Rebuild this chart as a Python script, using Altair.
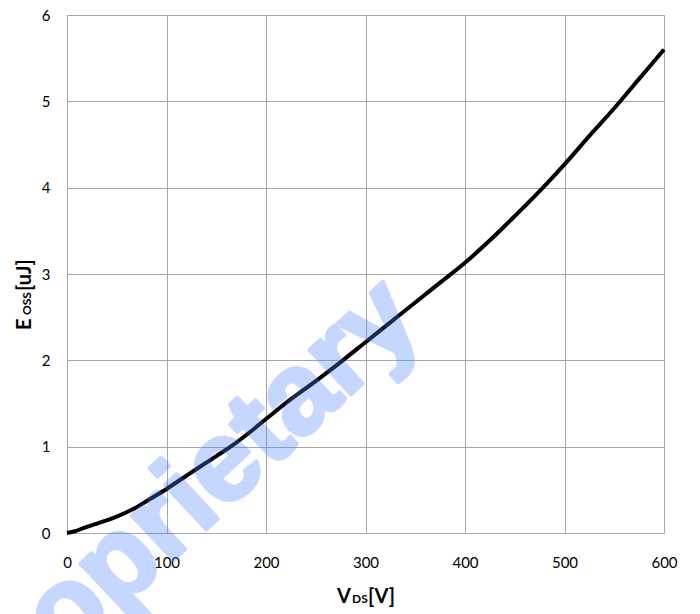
import altair as alt
import pandas as pd

# Data
vds = [0, 8, 17, 33, 50, 67, 83, 100, 117, 134, 150, 167, 184, 200, 225, 250, 275,
       300, 325, 350, 375, 400, 425, 450, 475, 500, 525, 550, 575, 600]
eoss = [0.0, 0.02, 0.06, 0.12, 0.19, 0.28, 0.39, 0.51, 0.64, 0.77, 0.89, 1.02, 1.17, 1.32,
        1.55, 1.76, 1.98, 2.21, 2.44, 2.67, 2.9, 3.13, 3.39, 3.67, 3.96, 4.27, 4.6, 4.92,
        5.26, 5.6]
x_ticks = [0, 100, 200, 300, 400, 500, 600]
y_ticks = [0, 1, 2, 3, 4, 5, 6]

W, H = 597, 518
df = pd.DataFrame({"vds": vds, "eoss": eoss})

grid = "#a6a6a6"
label_font = "Lato"

line = alt.Chart(df).mark_line(color="black", strokeWidth=4, interpolate="monotone").encode(
    x=alt.X("vds:Q", scale=alt.Scale(domain=[0, 600], nice=False),
            axis=alt.Axis(values=x_ticks, title=None, grid=True, ticks=False,
                          labelFlush=False, labelPadding=22,
                          domainColor=grid, gridColor=grid)),
    y=alt.Y("eoss:Q", scale=alt.Scale(domain=[0, 6], nice=False),
            axis=alt.Axis(values=y_ticks, title=None, grid=True, ticks=False,
                          labelFlush=False, labelPadding=17,
                          domainColor=grid, gridColor=grid)),
)

watermark = alt.Chart(pd.DataFrame({"t": ["proprietary"]})).mark_text(
    font="Liberation Sans", fontWeight="bold", fontSize=115, color="#4f82ff",
    stroke="#4f82ff", strokeWidth=4, strokeJoin="round",
    opacity=0.32, angle=317, align="center", baseline="middle"
).encode(text="t:N", x=alt.value(112), y=alt.value(492))

def piece(txt, x, y, size, angle=0):
    return alt.Chart(pd.DataFrame({"t": [txt]})).mark_text(
        font=label_font, fontWeight="bold", fontSize=size, color="black",
        align="left", baseline="alphabetic", angle=angle
    ).encode(text="t:N", x=alt.value(x), y=alt.value(y))

xt = [piece("V", 270, 588, 20), piece("DS", 285, 588, 12), piece("[V]", 301, 588, 20)]
yt = [piece("E", -36, 315, 20, 270), piece("OSS", -36, 300, 12, 270),
      piece("[uJ]", -36, 276, 20, 270)]

chart = alt.layer(line, watermark, *xt, *yt).properties(
    width=W, height=H,
    autosize=alt.AutoSizeParams(type="none"),
    padding={"left": 59, "top": 7, "right": 28, "bottom": 100},
).configure_view(stroke=grid, strokeWidth=1).configure_axis(
    labelFont=label_font, labelFontSize=15, labelColor="black", gridWidth=1, domainWidth=1
)

chart.save("out.html", embed_options={"renderer": "svg", "actions": False})
